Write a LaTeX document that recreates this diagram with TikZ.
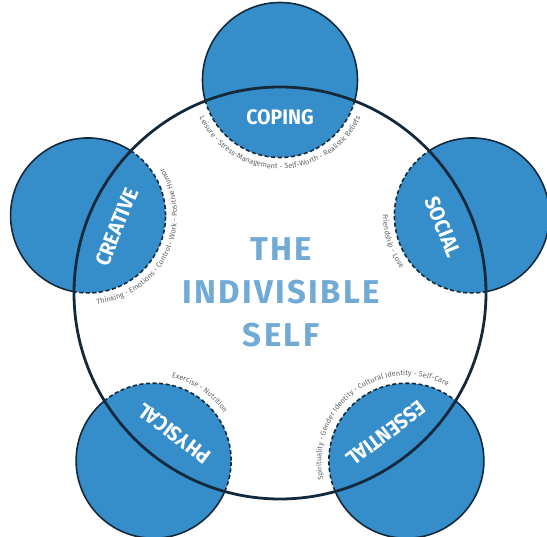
\documentclass[tikz,border=0pt]{standalone}
\usepackage{fontspec}
\setmainfont{Fira Sans}
\newfontfamily\notefont{Fira Sans}
\newfontfamily\headfont[LetterSpace=7]{Fira Sans}
\newfontfamily\lobefont[FakeStretch=0.93]{Fira Sans}
\usetikzlibrary{decorations.text}
\definecolor{cFill}{RGB}{53,141,201}
\definecolor{cEdge}{RGB}{20,42,60}
\definecolor{cTitle}{RGB}{114,170,214}
\definecolor{cNote}{RGB}{100,100,100}

\begin{document}
\begin{tikzpicture}[
  x=1pt, y=1pt,
  ring/.style ={draw=cEdge, line width=2.8pt},
  lobe/.style ={fill=cFill, draw=cEdge, line width=1.6pt},
  seam/.style ={draw=cEdge, line width=1.6pt, dash pattern=on 4pt off 2.6pt},
  lbl/.style  ={font=\lobefont\bfseries\fontsize{21}{21}\selectfont, text=white, inner sep=0pt},
  ttl/.style  ={font=\headfont\bfseries\fontsize{33}{43}\selectfont, text=cTitle, align=center},
  note/.style ={decorate, decoration={text along path, text align=center,
                text color=cNote, text={|\notefont\fontsize{7.4}{7.4}\selectfont|#1}}},
]

\def\R{206}\def\r{77.5}

\useasboundingbox (-280,-244) rectangle (267,293);

% ----- centre of the ring and the five lobes ----------------------------
\coordinate (mid) at (0,0);
\coordinate (cop) at (90:213);
\coordinate (soc) at (22:207);
\coordinate (ess) at (-53:210);
\coordinate (phy) at (-127:210);
\coordinate (cre) at (158:207);

\foreach \c in {cop,soc,ess,phy,cre}
  \draw[lobe] (\c) circle (\r);

% ----- inside the ring the lobe edges turn dashed -----------------------
\begin{scope}
  \clip (mid) circle (\R);
  \foreach \c in {cop,soc,ess,phy,cre}{
    \draw[white, line width=3pt] (\c) circle (\r);
    \fill[cFill] (\c) circle (\r);
    \draw[seam] (\c) circle (\r);}
\end{scope}

\draw[ring] (mid) circle (\R);

% ----- lobe names, tangent to the ring ----------------------------------
\foreach \ang/\nm/\txt in {90/cop/COPING, 22/soc/SOCIAL, -53/ess/ESSENTIAL,
                           -127/phy/PHYSICAL, 158/cre/CREATIVE}
  \node[lbl, rotate=\ang-90] (lbl-\nm) at (\ang:176) {\txt};

\node[ttl] (title) at (1,1) {THE\\INDIVISIBLE\\SELF};

% ----- small print round the dashed edges -------------------------------
% lower lobes: text runs clockwise on top; the rest runs counter-clockwise
\path[note={Leisure - Stress-Management - Self-Worth - Realistic Beliefs}]
  ([shift={(180:89)}]cop) arc[start angle=180, end angle=360, radius=89];
\path[note={Thinking - Emotions - Control - Work - Positive Humor}]
  ([shift={(244:89)}]cre) arc[start angle=244, end angle=424, radius=89];
\path[note={Friendship - Love}]
  ([shift={(108:89)}]soc) arc[start angle=108, end angle=288, radius=89];
\path[note={Exercise - Nutrition}]
  ([shift={(146:85)}]phy) arc[start angle=146, end angle=-34, radius=85];
\path[note={Spirituality - Gender Identity - Cultural Identity - Self-Care}]
  ([shift={(217:85)}]ess) arc[start angle=217, end angle=37, radius=85];

\end{tikzpicture}
\end{document}
